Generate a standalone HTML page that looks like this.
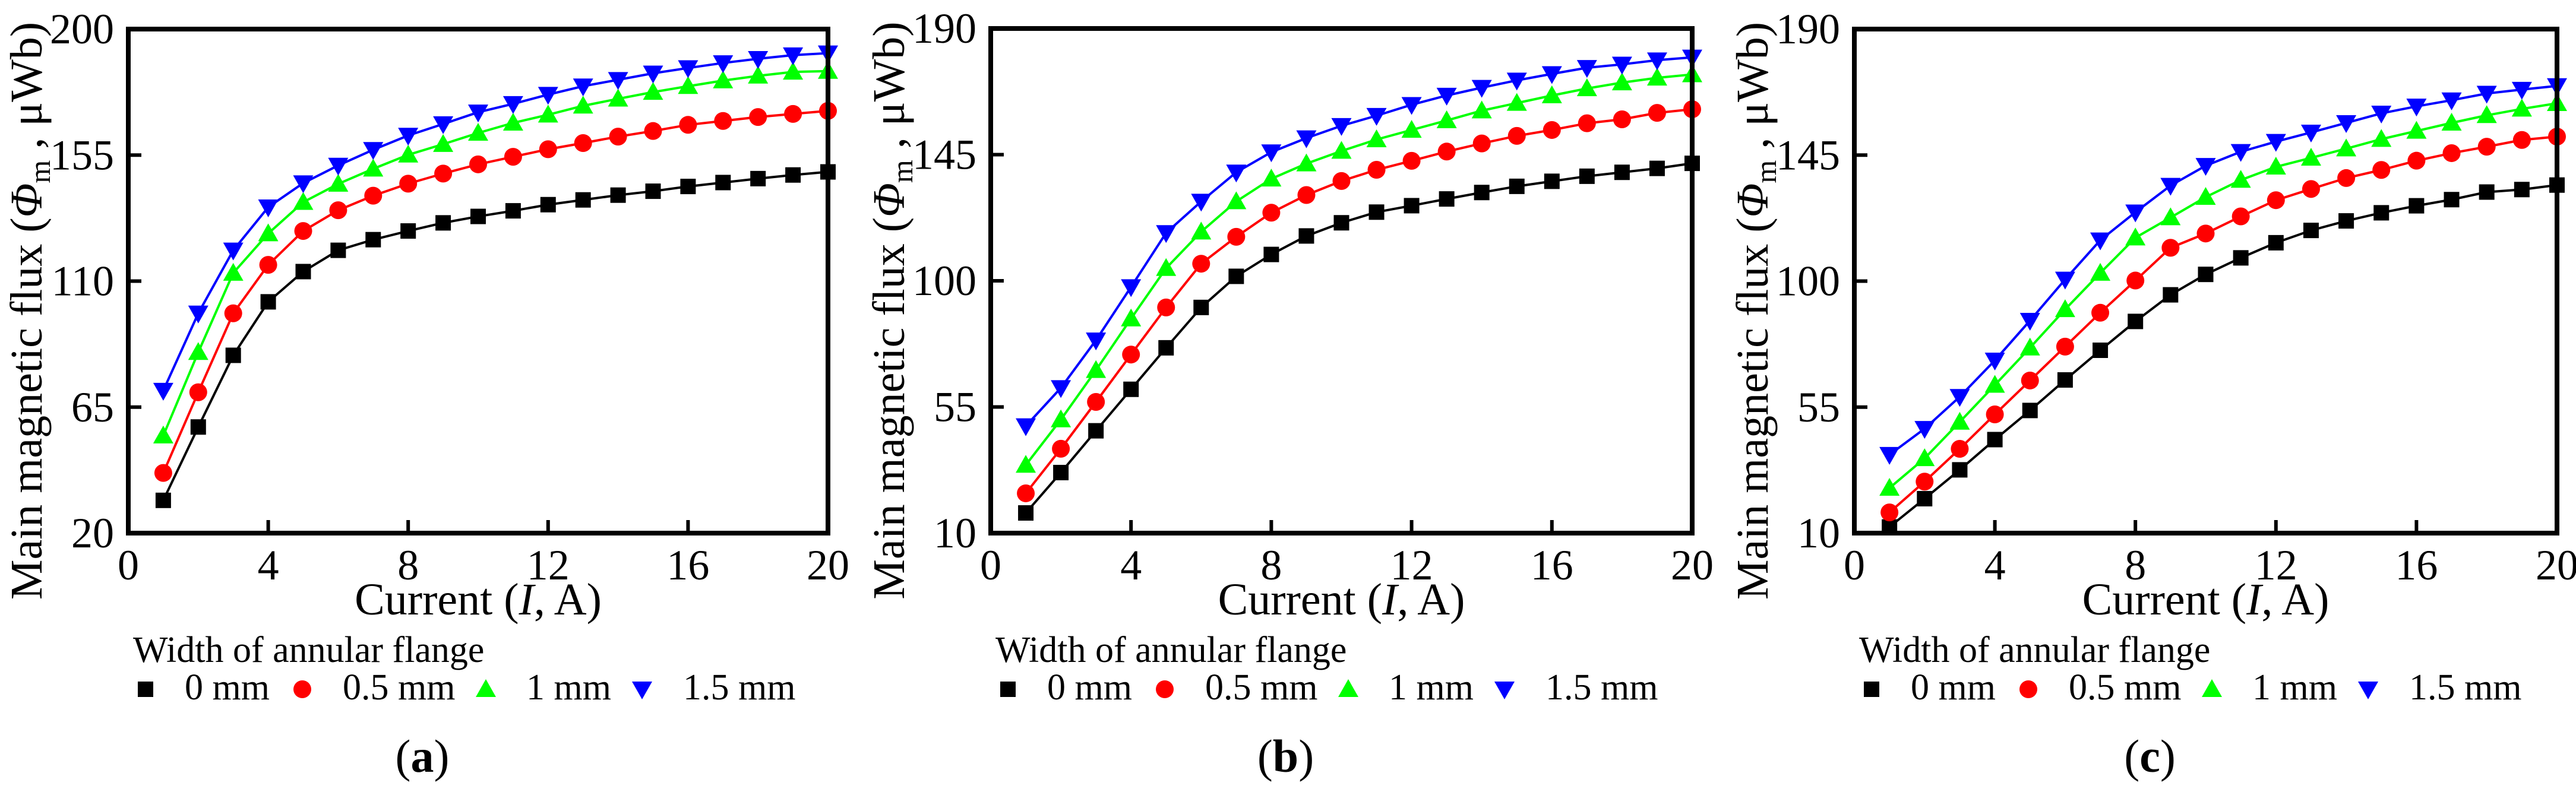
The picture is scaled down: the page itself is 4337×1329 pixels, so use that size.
<!DOCTYPE html>
<html><head><meta charset="utf-8">
<style>
html,body{margin:0;padding:0;background:#fff;}
svg{display:block;}
svg text, svg tspan{font-family:"Liberation Serif","DejaVu Serif",serif;}
</style></head>
<body>
<svg id="fig" width="4337" height="1329" viewBox="0 0 4337 1329" xmlns="http://www.w3.org/2000/svg" font-family="Liberation Serif, serif"></svg>
<script>
const xValues = [1,2,3,4,5,6,7,8,9,10,11,12,13,14,15,16,17,18,19,20];
const xTicks = [0,4,8,12,16,20];
const seriesNames = ["0 mm","0.5 mm","1 mm","1.5 mm"];
const seriesColors = ["#000000","#ff0000","#00ff00","#0000ff"];
const panelLabels = ["a","b","c"];

const yTicksA = [20,65,110,155,200];
const yTicksB = [10,55,100,145,190];
const yTicksC = [10,55,100,145,190];

const a0 = [31.7,57.9,83.5,102.6,113.4,121,124.8,127.9,130.8,133.1,135.1,137.3,139,140.7,142.1,143.8,145.2,146.6,147.9,149];
const a05 = [41.5,70.3,98.5,115.8,127.9,135.3,140.5,144.8,148.4,151.7,154.4,157.1,159.3,161.6,163.6,165.8,167.2,168.6,169.7,170.8];
const a1 = [54.8,84.6,112.9,127,138.2,144.7,150.1,155.1,158.9,162.9,166.5,169.4,172.6,175.1,177.5,179.6,181.6,183.3,184.7,185];
const a15 = [70.9,98.5,121,136.4,145,151.3,156.9,162,166.1,170.3,173.3,176.6,179.6,181.9,184.2,186.1,187.9,189.4,190.7,191.4];

const b0 = [17.2,31.6,46.5,61.3,76.1,90.5,101.6,109.4,116,120.7,124.5,126.8,129.2,131.5,133.7,135.5,137.3,138.7,140.1,141.9];
const b05 = [24.2,40.1,56.8,73.7,90.5,106.1,115.7,124.3,130.6,135.6,139.6,142.8,146.1,149,151.7,153.8,156.2,157.6,159.9,161.2];
const b1 = [34.3,50.5,68.1,86.5,104.5,117.5,128.3,136.4,141.8,146.3,150.4,153.8,157.2,160.7,163.4,166.1,168.6,170.7,172.4,173.6];
const b15 = [48.2,61.8,78.8,97.8,117.1,128.3,138.7,145.9,150.9,155.3,158.9,162.8,166.1,168.9,171.5,173.8,176,177.2,178.7,179.7];

const c0 = [12.2,22.3,32.6,43.4,53.8,64.7,75.3,85.6,95.1,102.4,108.3,113.7,118.1,121.5,124.4,126.9,129.1,131.8,132.7,134.3];
const c05 = [17.4,28.4,40.1,52.4,64.5,76.6,88.7,100.2,111.9,117,123.1,128.9,132.9,136.8,139.7,143,145.7,148,150.4,151.6];
const c1 = [26.1,36.7,49.7,62.9,76.2,89.9,102.9,115.5,122.7,130,136.1,140.8,144,147.3,150.7,153.6,156.5,159.2,161.5,163.5];
const c15 = [38,47.3,58.7,71.7,85.9,100.6,114.6,124.6,134.1,141.2,146.2,149.8,153.1,156.5,159.9,162.4,164.6,167,168.4,169.7];

const NS = "http://www.w3.org/2000/svg";
const FONT = '"Liberation Serif", "DejaVu Serif", serif';
const svg = document.getElementById("fig");
function mk(tag, attrs, parent) {
  const e = document.createElementNS(NS, tag);
  for (const k in attrs) e.setAttribute(k, attrs[k]);
  if (tag === "text" || tag === "tspan") e.style.fontFamily = FONT;
  (parent || svg).appendChild(e);
  return e;
}
function ts(parent, txt, attrs) {
  const t = mk("tspan", attrs || {}, parent);
  t.textContent = txt;
  return t;
}

const panels = [
  {left:216, right:1394, top:49, bottom:898, yTicks:yTicksA, series:[a0,a05,a1,a15]},
  {left:1668, right:2849, top:48, bottom:898, yTicks:yTicksB, series:[b0,b05,b1,b15]},
  {left:3122, right:4305, top:49, bottom:898, yTicks:yTicksC, series:[c0,c05,c1,c15]}
];

function drawMarker(g, type, cx, cy, color) {
  let m;
  if (type === 0) m = mk("rect", {x:cx-13, y:cy-13, width:26, height:26, fill:color}, g);
  else if (type === 1) m = mk("circle", {cx:cx, cy:cy, r:15, fill:color}, g);
  else if (type === 2) m = mk("polygon", {points:`${cx},${cy-17} ${cx+17},${cy+13} ${cx-17},${cy+13}`, fill:color}, g);
  else m = mk("polygon", {points:`${cx},${cy+17} ${cx+17},${cy-13} ${cx-17},${cy-13}`, fill:color}, g);
  return m;
}

panels.forEach((p, pi) => {
  const yMin = p.yTicks[0], yMax = p.yTicks[p.yTicks.length-1];
  const xs = v => p.left + (v - 0) / 20 * (p.right - p.left);
  const ys = v => p.bottom - (v - yMin) / (yMax - yMin) * (p.bottom - p.top);
  const g = mk("g", {});
  
  

  xTicks.forEach(t => {
    const x = xs(t);
    if (t !== 0 && t !== 20) {
      const tk = mk("line", {x1:x, y1:p.bottom, x2:x, y2:p.bottom-22, stroke:"#000", "stroke-width":6}, g);
      
      
    }
    const tl = mk("text", {x:x, y:p.bottom+78, "font-size":72, "text-anchor":"middle"}, g);
    tl.textContent = t;
    
    
  });
  p.yTicks.forEach((t, i) => {
    const y = ys(t);
    if (i !== 0 && i !== p.yTicks.length-1) {
      const tk = mk("line", {x1:p.left, y1:y, x2:p.left+22, y2:y, stroke:"#000", "stroke-width":6}, g);
      
      
    }
    const tl = mk("text", {x:p.left-24, y:y+24, "font-size":72, "text-anchor":"end"}, g);
    tl.textContent = t;
    
    
  });

  p.series.forEach((vals, si) => {
    const sg = mk("g", {}, g);
    
    
    const pts = vals.map((v, i) => `${xs(xValues[i])},${ys(v)}`).join(" ");
    const pl = mk("polyline", {points:pts, fill:"none", stroke:seriesColors[si], "stroke-width":4}, sg);
    
    
    vals.forEach((v, i) => {
      const m = drawMarker(sg, si, xs(xValues[i]), ys(v), seriesColors[si]);
      
      
    });
  });

  const fr = mk("rect", {x:p.left, y:p.top, width:p.right-p.left, height:p.bottom-p.top, fill:"none", stroke:"#000", "stroke-width":8}, g);
  
  

  const xt = mk("text", {x:(p.left+p.right)/2, y:1035, "font-size":76, "text-anchor":"middle"}, g);
  ts(xt, "Current (");
  ts(xt, "I", {"font-style":"italic"});
  ts(xt, ", A)");
  
  

  const ty = (p.top + p.bottom) / 2 + 50;
  const yt = mk("text", {x:0, y:0, "font-size":76, "text-anchor":"middle", transform:`translate(${p.left-146},${ty}) rotate(-90)`}, g);
  ts(yt, "Main magnetic flux (");
  ts(yt, "Φ", {"font-style":"italic"});
  ts(yt, "m", {"font-size":50, dy:14});
  ts(yt, " , μWb)", {dy:-14});
  
  

  const lg = mk("g", {}, g);
  
  
  const lt = mk("text", {x:p.left+8, y:1115, "font-size":62}, lg);
  lt.textContent = "Width of annular flange";
  
  
  const mOff = [29, 293, 602, 865];
  const tOff = [95, 361, 670, 934];
  seriesNames.forEach((n, si) => {
    const eg = mk("g", {}, lg);
    
    
    drawMarker(eg, si, p.left + mOff[si], 1161, seriesColors[si]);
    const et = mk("text", {x:p.left + tOff[si], y:1178, "font-size":62}, eg);
    et.textContent = n;
  });

  const cp = mk("text", {x:(p.left+p.right)/2 - 94, y:1300, "font-size":78, "text-anchor":"middle"}, g);
  ts(cp, "(");
  ts(cp, panelLabels[pi], {"font-weight":"bold"});
  ts(cp, ")");
  
  
});
</script>
</body></html>
